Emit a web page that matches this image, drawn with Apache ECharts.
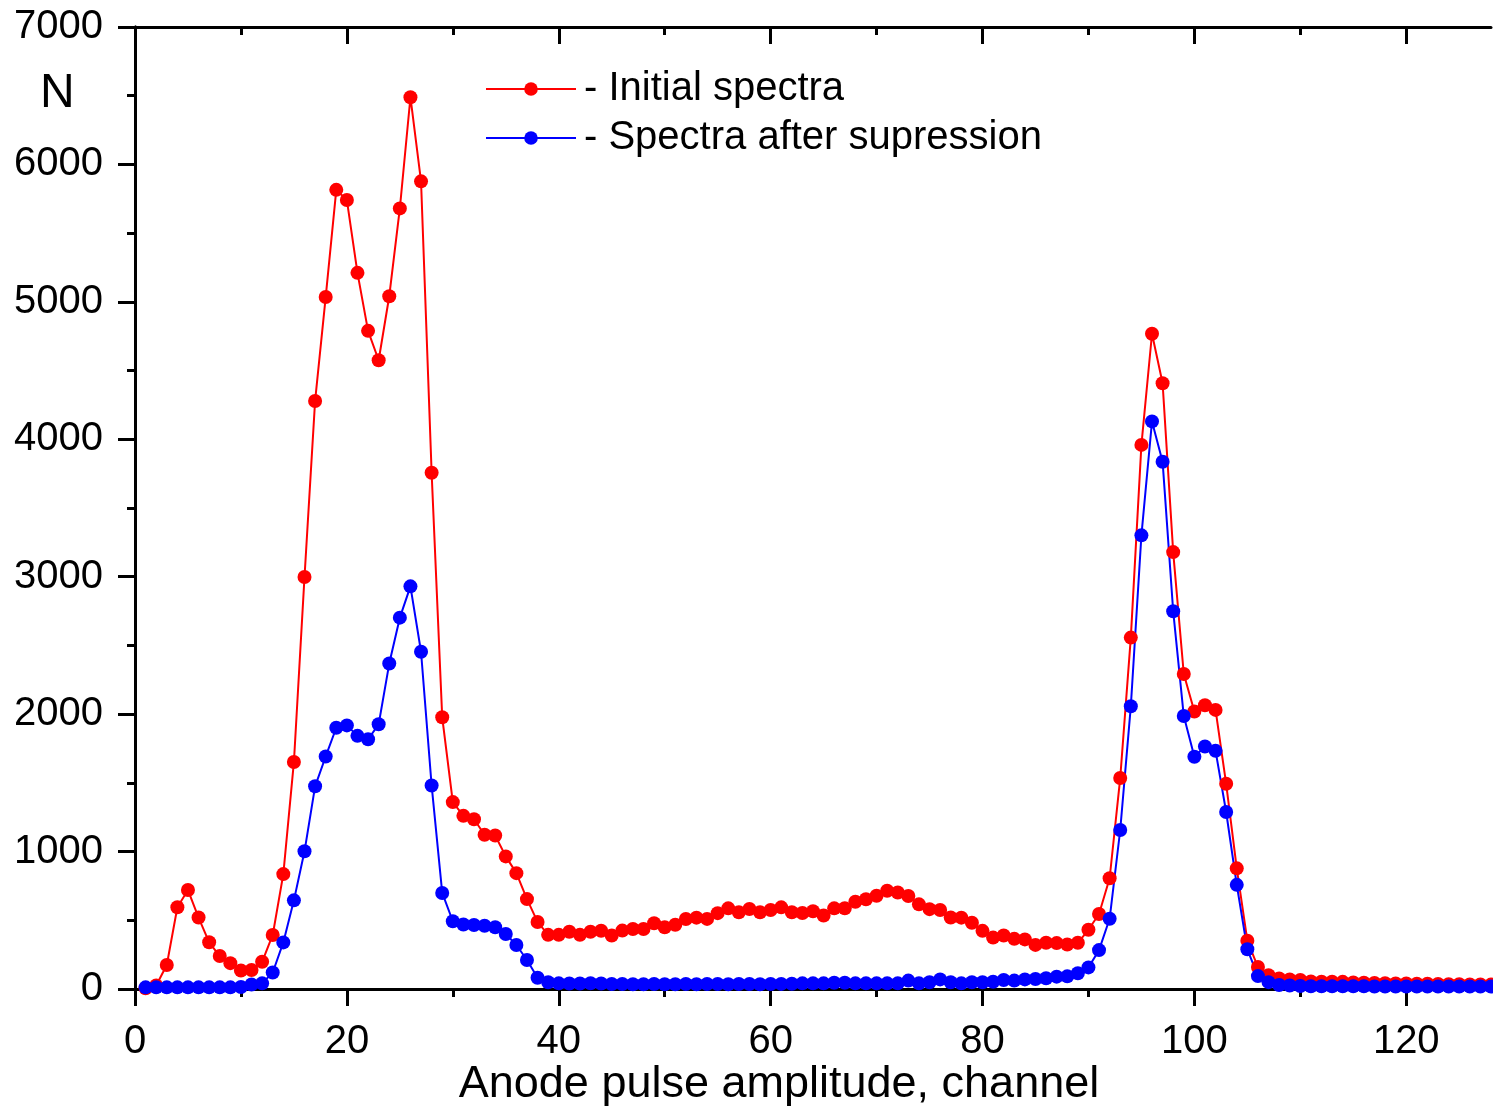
<!DOCTYPE html>
<html>
<head>
<meta charset="utf-8">
<script src="https://cdn.jsdelivr.net/npm/echarts@6/dist/echarts.min.js"></script>
<style>
  html, body { margin: 0; padding: 0; background: #fff; }
  #chart { width: 1493px; height: 1108px; }
</style>
</head>
<body>
<div id="chart"></div>
<script>
// counts per channel, channels 1..128
const initialSpectra = [
    5, 25, 175, 595, 720, 520, 340, 240, 188, 135,
    138, 198, 393, 836, 1652, 2998, 4279, 5035, 5815, 5741,
    5211, 4789, 4575, 5041, 5680, 6489, 5877, 3756, 1977, 1360,
    1260, 1235, 1122, 1117, 965, 843, 654, 488, 394, 394,
    417, 394, 417, 424, 389, 425, 437, 437, 478, 449,
    467, 509, 519, 510, 552, 587, 558, 582, 558, 575,
    594, 558, 553, 566, 535, 587, 588, 635, 653, 678,
    715, 702, 677, 616, 581, 575, 520, 519, 482, 423,
    374, 389, 365, 361, 321, 337, 334, 324, 336, 431,
    546, 806, 1535, 2557, 3959, 4768, 4408, 3179, 2292, 2019,
    2065, 2031, 1493, 878, 352, 160, 100, 77, 70, 66,
    55, 53, 53, 52, 48, 45, 44, 42, 40, 40,
    38, 38, 36, 35, 35, 33, 33, 32
];
const afterSupression = [
    12, 12, 12, 12, 12, 12, 12, 12, 12, 15,
    33, 41, 120, 339, 645, 1002, 1475, 1692, 1901, 1918,
    1842, 1817, 1926, 2368, 2702, 2930, 2454, 1481, 699, 493,
    469, 466, 460, 449, 400, 320, 211, 82, 49, 41,
    40, 40, 42, 40, 36, 36, 35, 35, 36, 35,
    35, 36, 35, 36, 36, 35, 36, 36, 35, 36,
    37, 38, 41, 41, 41, 46, 46, 41, 41, 41,
    41, 41, 61, 41, 49, 70, 49, 41, 49, 49,
    53, 65, 61, 70, 73, 78, 90, 92, 115, 157,
    283, 511, 1157, 2057, 3301, 4130, 3837, 2749, 1986, 1690,
    1765, 1733, 1288, 758, 289, 94, 50, 29, 25, 22,
    20, 20, 20, 20, 20, 20, 18, 18, 18, 18,
    18, 18, 18, 18, 18, 18, 18, 18
];
const xMajorTicks = [0, 20, 40, 60, 80, 100, 120];
const xMinorTicks = [10, 30, 50, 70, 90, 110];

const font = 'Liberation Sans, Arial, sans-serif';
const chart = echarts.init(document.getElementById('chart'));

// pair each count with its channel number
function toPoints(values) {
    return values.map((v, i) => [i + 1, v]);
}

const thick = { color: '#000', width: 3 };

// x axes: bottom (labelled) + top mirror, each with a separate minor-tick axis
function xAxisDef(position, major, inside, withLine) {
    return {
        type: 'value',
        position: position,
        min: 0,
        max: 128,
        axisLine: { show: withLine, lineStyle: thick },
        axisTick: {
            show: true,
            inside: inside,
            length: major ? 17 : 8,
            lineStyle: thick,
            customValues: major ? xMajorTicks : xMinorTicks
        },
        axisLabel: { show: false },
        splitLine: { show: false }
    };
}

const xBottom = xAxisDef('bottom', true, false, true);
xBottom.axisLabel = {
    show: true,
    customValues: xMajorTicks,
    margin: 33,
    fontSize: 40,
    color: '#000',
    fontFamily: font
};
xBottom.name = 'Anode pulse amplitude, channel';
xBottom.nameLocation = 'middle';
xBottom.nameGap = 73;
xBottom.nameMoveOverlap = false;
xBottom.nameTextStyle = { fontSize: 45, color: '#000', fontFamily: font, padding: [0, 68, 0, 0] };

chart.setOption({
    backgroundColor: '#fff',
    animation: false,
    grid: { left: 135, top: 27, right: 2, bottom: 119, outerBoundsMode: 'none', containLabel: false },
    legend: {
        left: 480,
        top: 64,
        orient: 'vertical',
        itemWidth: 90,
        itemHeight: 17,
        itemGap: 9,
        formatter: '- {name}',
        textStyle: { fontSize: 40, color: '#000', fontFamily: font, lineHeight: 40, padding: [0, 0, 0, 3] },
        data: ['Initial spectra', 'Spectra after supression']
    },
    graphic: [{
        type: 'text',
        left: 40,
        top: 70,
        style: { text: 'N', fontSize: 48, fill: '#000', fontFamily: font }
    }],
    xAxis: [
        xBottom,
        xAxisDef('bottom', false, false, false),
        xAxisDef('top', true, true, true),
        xAxisDef('top', false, true, false)
    ],
    yAxis: [
        {
            type: 'value',
            position: 'left',
            min: 0,
            max: 7000,
            interval: 1000,
            axisLine: { show: true, lineStyle: thick },
            axisTick: { show: true, inside: false, length: 17, lineStyle: thick },
            minorTick: { show: true, splitNumber: 2, length: 8, lineStyle: thick },
            axisLabel: {
                margin: 32, fontSize: 40, color: '#000', fontFamily: font,
                formatter: v => String(v)
            },
            splitLine: { show: false }
        },
        {
            type: 'value',
            position: 'right',
            min: 0,
            max: 7000,
            interval: 1000,
            axisLine: { show: true, lineStyle: thick },
            axisTick: { show: true, inside: true, length: 17, lineStyle: thick },
            minorTick: { show: true, splitNumber: 2, length: 8, lineStyle: thick },
            axisLabel: { show: false },
            splitLine: { show: false }
        }
    ],
    series: [
        {
            name: 'Initial spectra',
            type: 'line',
            data: toPoints(initialSpectra),
            symbol: 'circle',
            symbolSize: 14,
            showAllSymbol: true,
            color: '#ff0000',
            lineStyle: { width: 2, color: '#ff0000' },
            itemStyle: { color: '#ff0000' }
        },
        {
            name: 'Spectra after supression',
            type: 'line',
            data: toPoints(afterSupression),
            symbol: 'circle',
            symbolSize: 14,
            showAllSymbol: true,
            color: '#0000ff',
            lineStyle: { width: 2, color: '#0000ff' },
            itemStyle: { color: '#0000ff' }
        }
    ]
});
</script>
</body>
</html>
